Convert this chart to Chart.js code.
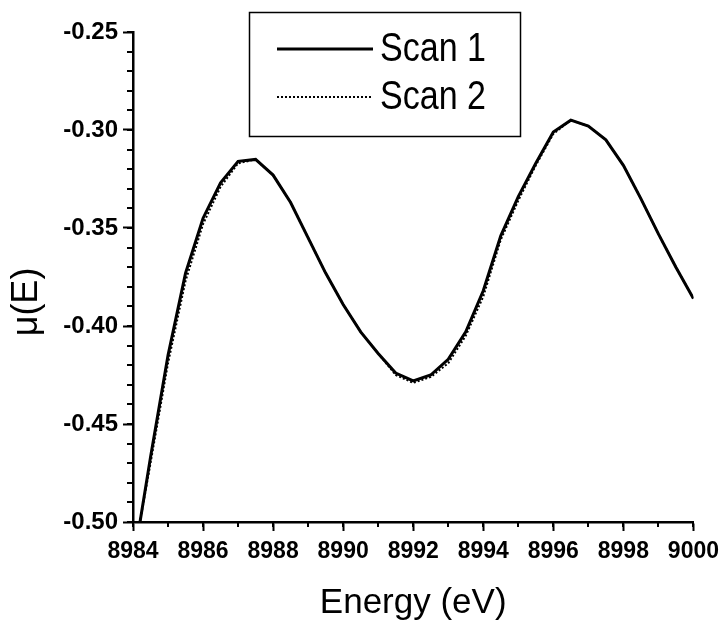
<!DOCTYPE html>
<html>
<head>
<meta charset="utf-8">
<script src="https://cdn.jsdelivr.net/npm/chart.js@4/dist/chart.umd.min.js"></script>
<style>
  body { margin: 0; background: #fff; }
  #wrap { width: 726px; height: 624px; position: relative; }
</style>
</head>
<body>
<div id="wrap"><canvas id="chart1"></canvas></div>
<script>
//Data
var energy = [8984.2, 8984.5, 8985.0, 8985.5, 8986.0, 8986.5, 8987.0, 8987.5, 8988.0, 8988.5,
              8989.0, 8989.5, 8990.0, 8990.5, 8991.0, 8991.5, 8992.0, 8992.5, 8993.0, 8993.5,
              8994.0, 8994.5, 8995.0, 8995.5, 8996.0, 8996.5, 8997.0, 8997.5, 8998.0, 8998.5,
              8999.0, 8999.5, 9000.0];
var scan1 = [-0.500, -0.467, -0.415, -0.373, -0.345, -0.327, -0.316, -0.315, -0.323, -0.337,
             -0.355, -0.373, -0.389, -0.403, -0.414, -0.424, -0.428, -0.425, -0.417, -0.403,
             -0.382, -0.354, -0.334, -0.317, -0.301, -0.295, -0.298, -0.305, -0.318, -0.335,
             -0.353, -0.370, -0.386];
var scan2 = [-0.500, -0.470, -0.419, -0.377, -0.348, -0.329, -0.317, -0.315, -0.323, -0.337,
             -0.355, -0.373, -0.389, -0.403, -0.414, -0.425, -0.429, -0.426, -0.419, -0.405,
             -0.385, -0.356, -0.336, -0.318, -0.302, -0.295, -0.298, -0.305, -0.318, -0.335,
             -0.353, -0.370, -0.386];
var seriesLabels = ['Scan 1', 'Scan 2'];
var xTitle = 'Energy (eV)';
var yTitle = 'μ(E)';
var xMin = 8984, xMax = 9000, xStep = 2, xMinorStep = 1;
var yMin = -0.50, yMax = -0.25, yStep = 0.05, yMinorStep = 0.01;

var FONT = '"Liberation Sans", Arial, sans-serif';

//Turning two arrays into {x, y} points
function toPoints(xs, ys) {
    var pts = [];
    for (i = 0; i < xs.length; i++) {
        pts.push({x: xs[i], y: ys[i]});
    }
    return pts;
}

//Minor ticks (Chart.js has no minor ticks), the y title and the boxed legend
var extras = {
    id: 'extras',
    afterDraw: function(chart) {
        var ctx = chart.ctx;
        var xs = chart.scales.x, ys = chart.scales.y;
        var area = chart.chartArea;
        ctx.save();
        ctx.strokeStyle = '#000';
        ctx.fillStyle = '#000';
        ctx.lineWidth = 2;
        ctx.beginPath();
        for (v = xMin; v <= xMax + 1e-9; v += xMinorStep) {
            var px = Math.round(xs.getPixelForValue(v));
            ctx.moveTo(px, area.bottom);
            ctx.lineTo(px, area.bottom + 5);
        }
        for (k = 0; k <= Math.round((yMax - yMin) / yMinorStep); k++) {
            var py = Math.round(ys.getPixelForValue(yMin + k * yMinorStep));
            ctx.moveTo(area.left, py);
            ctx.lineTo(area.left - 6, py);
        }
        ctx.stroke();

        //y axis title, sitting a little below the middle as in the original
        ctx.save();
        ctx.translate(37, 302);
        ctx.rotate(-Math.PI / 2);
        ctx.font = '36px ' + FONT;
        ctx.textAlign = 'center';
        ctx.textBaseline = 'alphabetic';
        ctx.fillText(yTitle, 0, 0);
        ctx.restore();

        //legend box
        ctx.lineWidth = 1.5;
        ctx.strokeRect(249.5, 12.5, 271, 124);
        chart.data.datasets.forEach(function(ds, idx) {
            var ly = 49 + idx * 48;
            ctx.beginPath();
            ctx.lineWidth = ds.borderWidth;
            ctx.setLineDash(ds.borderDash || []);
            ctx.moveTo(277, ly);
            ctx.lineTo(373, ly);
            ctx.stroke();
            ctx.setLineDash([]);
            ctx.save();
            ctx.translate(380, ly + 12);
            ctx.scale(0.83, 1);
            ctx.font = '41px ' + FONT;
            ctx.textBaseline = 'alphabetic';
            ctx.fillText(ds.label, 0, 0);
            ctx.restore();
        });
        ctx.restore();
    }
};

const CHART1 = document.getElementById("chart1");
let scanChart = new Chart(CHART1, {
    type: 'line',
    data: {
        datasets: [
            {
                label: seriesLabels[0],
                borderColor: '#000',
                backgroundColor: '#000',
                borderWidth: 3,
                pointRadius: 0,
                data: toPoints(energy, scan1)
            },
            {
                label: seriesLabels[1],
                borderColor: '#000',
                backgroundColor: '#000',
                borderWidth: 2,
                borderDash: [2, 2],
                pointRadius: 0,
                data: toPoints(energy, scan2)
            }
        ]
    },
    options: {
        responsive: true,
        maintainAspectRatio: false,
        animation: false,
        layout: { padding: { left: 0, top: 32, right: 31, bottom: 0 } },
        plugins: {
            legend: { display: false },
            tooltip: { enabled: false }
        },
        scales: {
            x: {
                type: 'linear',
                min: xMin,
                max: xMax,
                border: { display: true, color: '#000', width: 2.5 },
                grid: { drawOnChartArea: false, color: '#000', tickColor: '#000', tickLength: 9, tickWidth: 2 },
                ticks: {
                    stepSize: xStep,
                    color: '#000',
                    padding: 7,
                    maxRotation: 0,
                    font: { family: FONT, size: 23, weight: 'bold' },
                    callback: function(v) { return String(v); }
                },
                title: {
                    display: true,
                    text: xTitle,
                    color: '#000',
                    padding: { top: 10, bottom: 0 },
                    font: { family: FONT, size: 35 }
                },
                afterFit: function(scale) { scale.height = 102; }
            },
            y: {
                min: yMin,
                max: yMax,
                border: { display: true, color: '#000', width: 2.5 },
                grid: { drawOnChartArea: false, color: '#000', tickColor: '#000', tickLength: 10, tickWidth: 2 },
                ticks: {
                    stepSize: yStep,
                    color: '#000',
                    padding: 5,
                    font: { family: FONT, size: 24, weight: 'bold' },
                    callback: function(v) { return v.toFixed(2); }
                },
                afterFit: function(scale) { scale.width = 133; }
            }
        }
    },
    plugins: [extras]
});
</script>
</body>
</html>
